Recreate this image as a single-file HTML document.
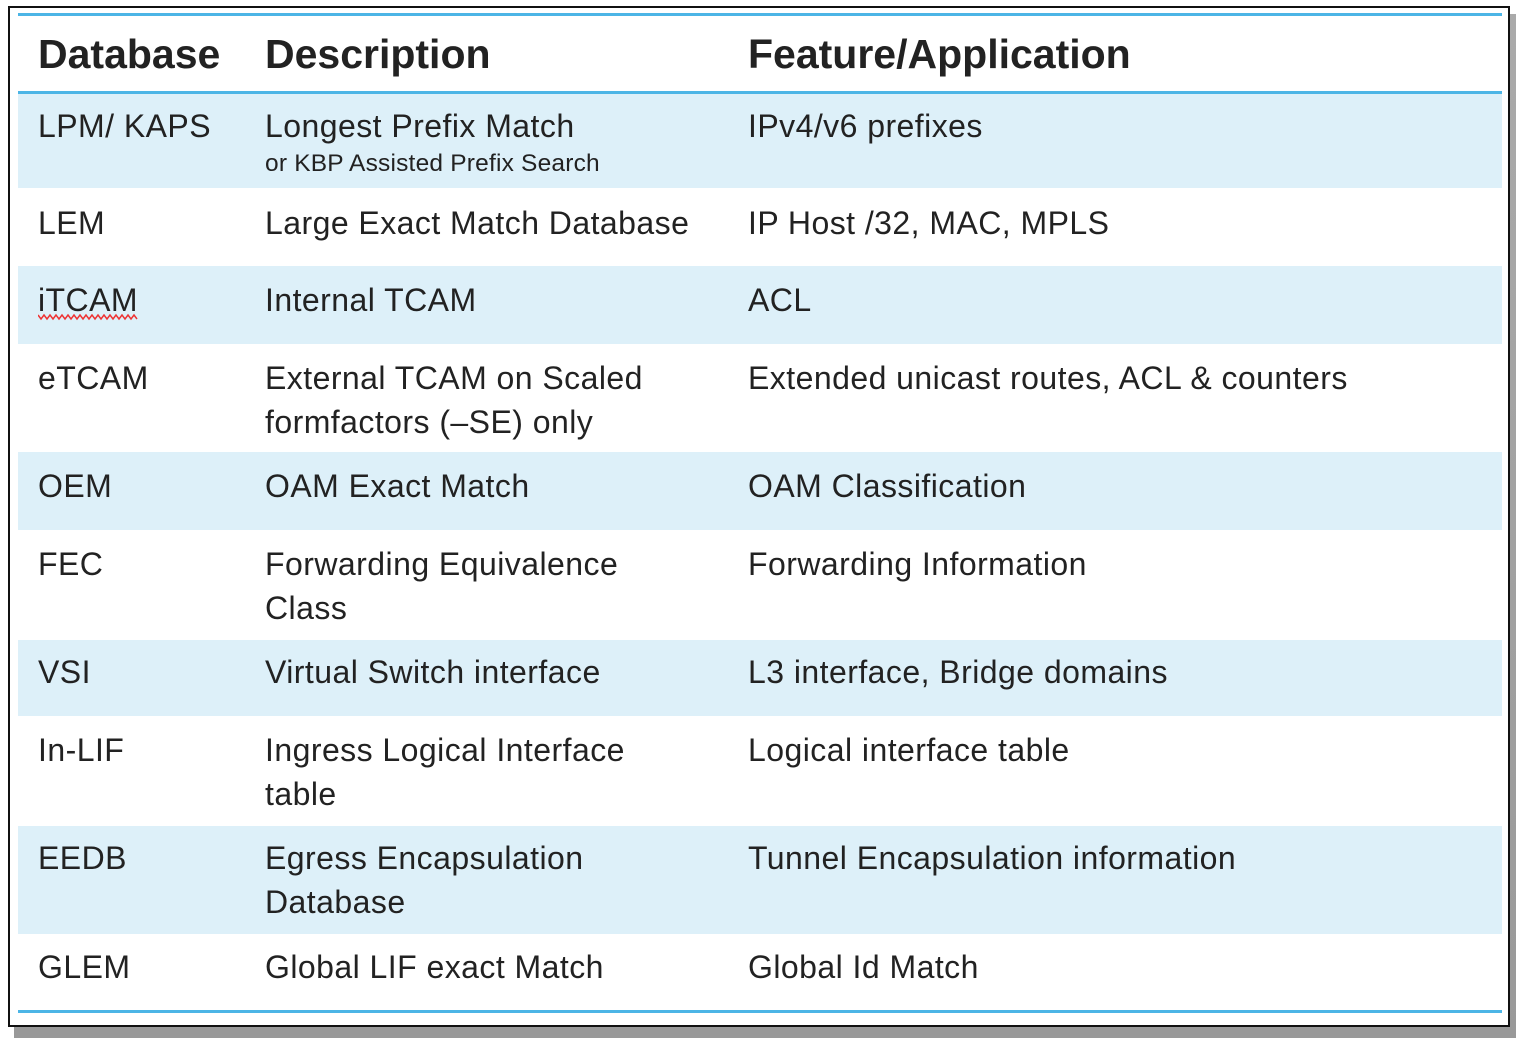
<!DOCTYPE html>
<html><head><meta charset="utf-8"><style>
body{margin:0;width:1516px;height:1038px;background:#fff;position:relative;overflow:hidden;font-family:"Liberation Sans",sans-serif;color:#222;}
.sh{position:absolute;left:14px;top:14px;width:1502px;height:1024px;background:linear-gradient(#aaa,#999);}
.box{position:absolute;left:8px;top:6px;width:1498px;height:1017px;border:2px solid #111;background:#fff;}
.r{position:absolute;left:18px;width:1484px;background:#ddf0f9;}
.ln{position:absolute;left:18px;width:1484px;height:3px;background:#4cb5e6;}
.t{position:absolute;font-size:32px;line-height:44px;white-space:nowrap;letter-spacing:0.45px;}
.h{font-weight:bold;font-size:41px;letter-spacing:0;}
.s{font-size:24.5px;line-height:30px;letter-spacing:0.2px;}
</style></head><body>
<div class="sh"></div>
<div class="box"></div>
<div class="ln" style="top:13px"></div>
<div class="ln" style="top:91px"></div>
<div class="r" style="top:94px;height:94px"></div>
<div class="r" style="top:266px;height:78px"></div>
<div class="r" style="top:452px;height:78px"></div>
<div class="r" style="top:640px;height:76px"></div>
<div class="r" style="top:826px;height:108px"></div>
<div class="ln" style="top:1010px"></div>

<div class="t h" style="left:38px;top:32px">Database</div>
<div class="t h" style="left:265px;top:32px">Description</div>
<div class="t h" style="left:748px;top:32px">Feature/Application</div>

<div class="t" style="left:38px;top:104px">LPM/ KAPS</div>
<div class="t" style="left:265px;top:104px">Longest Prefix Match</div>
<div class="t s" style="left:265px;top:149px">or KBP Assisted Prefix Search</div>
<div class="t" style="left:748px;top:104px">IPv4/v6 prefixes</div>

<div class="t" style="left:38px;top:201px">LEM</div>
<div class="t" style="left:265px;top:201px">Large Exact Match Database</div>
<div class="t" style="left:748px;top:201px">IP Host /32, MAC, MPLS</div>

<div class="t" style="left:38px;top:278px">iTCAM</div>
<svg style="position:absolute;left:38px;top:313px" width="100" height="8"><polyline fill="none" stroke="#e33" stroke-width="1.5" points="0,2 3,6 6,2 9,6 12,2 15,6 18,2 21,6 24,2 27,6 30,2 33,6 36,2 39,6 42,2 45,6 48,2 51,6 54,2 57,6 60,2 63,6 66,2 69,6 72,2 75,6 78,2 81,6 84,2 87,6 90,2 93,6 96,2 99,6"/></svg>
<div class="t" style="left:265px;top:278px">Internal TCAM</div>
<div class="t" style="left:748px;top:278px">ACL</div>

<div class="t" style="left:38px;top:356px">eTCAM</div>
<div class="t" style="left:265px;top:356px">External TCAM on Scaled<br>formfactors (–SE) only</div>
<div class="t" style="left:748px;top:356px">Extended unicast routes, ACL &amp; counters</div>

<div class="t" style="left:38px;top:464px">OEM</div>
<div class="t" style="left:265px;top:464px">OAM Exact Match</div>
<div class="t" style="left:748px;top:464px">OAM Classification</div>

<div class="t" style="left:38px;top:542px">FEC</div>
<div class="t" style="left:265px;top:542px">Forwarding Equivalence<br>Class</div>
<div class="t" style="left:748px;top:542px">Forwarding Information</div>

<div class="t" style="left:38px;top:650px">VSI</div>
<div class="t" style="left:265px;top:650px">Virtual Switch interface</div>
<div class="t" style="left:748px;top:650px">L3 interface, Bridge domains</div>

<div class="t" style="left:38px;top:728px">In-LIF</div>
<div class="t" style="left:265px;top:728px">Ingress Logical Interface<br>table</div>
<div class="t" style="left:748px;top:728px">Logical interface table</div>

<div class="t" style="left:38px;top:836px">EEDB</div>
<div class="t" style="left:265px;top:836px">Egress Encapsulation<br>Database</div>
<div class="t" style="left:748px;top:836px">Tunnel Encapsulation information</div>

<div class="t" style="left:38px;top:945px">GLEM</div>
<div class="t" style="left:265px;top:945px">Global LIF exact Match</div>
<div class="t" style="left:748px;top:945px">Global Id Match</div>
</body></html>
